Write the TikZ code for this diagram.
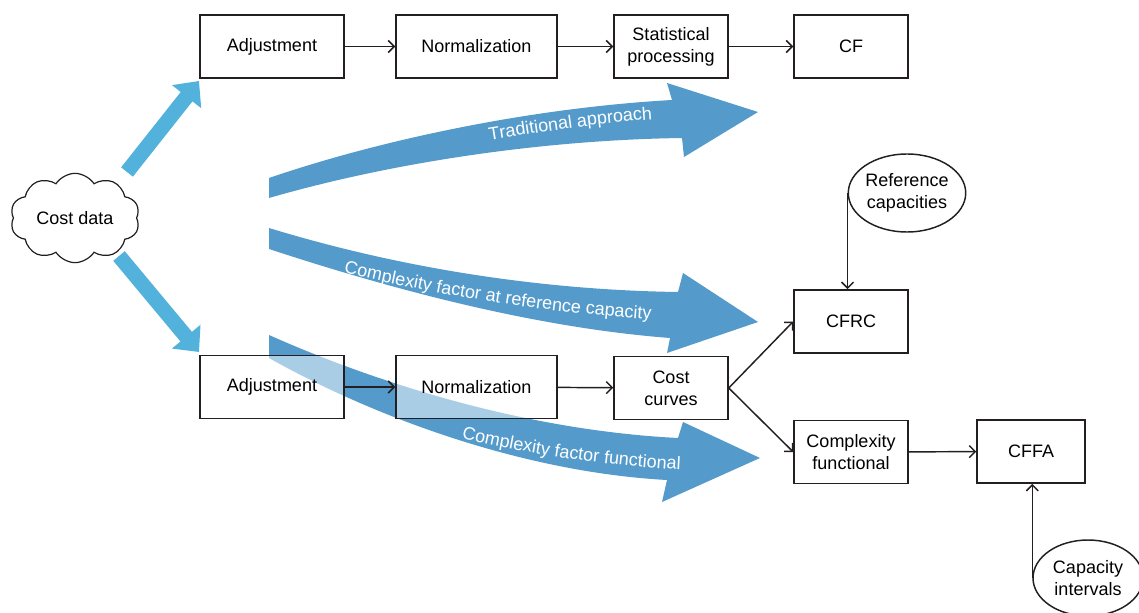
\documentclass[tikz,border=0pt]{standalone}
\usepackage{fontspec}
\setmainfont{Liberation Sans}
\usetikzlibrary{arrows.meta,shapes.geometric,shapes.symbols,decorations.text}
\definecolor{flowblue}{RGB}{84,155,204}
\definecolor{feedblue}{RGB}{82,178,220}
\definecolor{inkline}{RGB}{35,31,32}
\newcommand\arwfont{\fontsize{13.5}{16}\selectfont}

\begin{document}
\begin{tikzpicture}[x=0.75pt,y=-0.75pt,
  every node/.style={font=\fontsize{13.5}{16.5}\selectfont, text=black},
  box/.style={draw=inkline, line width=1.1pt, fill=white, fill opacity=0.5, text opacity=1,
              inner sep=0pt, minimum height=47.5pt, align=center},
  wbox/.style={box, minimum width=108pt},
  nbox/.style={box, minimum width=120.75pt},
  sbox/.style={box, minimum width=85.5pt},
  flow/.style={draw=inkline, line width=1.1pt, -{Straight Barb[length=4.5pt,width=9pt]}},
  feed/.style={draw=feedblue, line width=11.25pt, -{Triangle[length=15pt,width=27pt]}},
  band/.style={fill=flowblue},
  bandtext/.style={decorate, decoration={text along path, text align=center, text color=white}},
  oval/.style={ellipse, draw=inkline, line width=1.1pt, fill=white, inner sep=0pt, align=center}
]
\useasboundingbox (0,0) rectangle (1139,613);

% broad curved bands for the three approaches
\fill[band] (269,178) .. controls (380,140) and (530,108) .. (672,100) -- (667,83) -- (758,112)
  -- (684,157) -- (682,138) .. controls (540,140) and (390,163) .. (269,198) -- cycle;
\fill[band] (269,228) .. controls (400,268) and (540,290) .. (678,292) -- (683,273) -- (758,322)
  -- (667,353) -- (670,338) .. controls (540,328) and (400,292) .. (269,249) -- cycle;
\fill[band] (269,335) .. controls (370,380) and (520,430) .. (678,438) -- (683,422) -- (760,458)
  -- (662,502) -- (667,480) .. controls (520,472) and (370,415) .. (269,358) -- cycle;

\path[bandtext, decoration={text={|\arwfont|Traditional approach}}]
  (484,141) .. controls (540,132) and (600,123) .. (658,119);
\path[bandtext, decoration={text={|\arwfont|Complexity factor at reference capacity}}]
  (333,270) .. controls (420,292) and (540,313) .. (662,320);
\path[bandtext, decoration={text={|\arwfont|Complexity factor functional}}]
  (454,437) .. controls (520,452) and (600,466) .. (688,470);

% arrows leaving the cost data
\coordinate (upTail) at (127,172);
\coordinate (upTip) at (199,81);
\coordinate (dnTail) at (119,256);
\coordinate (dnTip) at (199,352);
\draw[feed] (upTail) -- (upTip);
\draw[feed] (dnTail) -- (dnTip);

\node[cloud, draw=inkline, line width=0.9pt, fill=white, cloud puffs=10, cloud puff arc=115,
      cloud ignores aspect, minimum width=97pt, minimum height=67pt] (costdata) at (75,218) {Cost data};

% top row
\node[wbox] (adj1) at (272,46.5) {Adjustment};
\node[nbox] (norm1) at (476.5,46.5) {Normalization};
\node[sbox] (stat) at (671,46.5) {Statistical\\processing};
\node[sbox] (cf) at (851,46.5) {CF};

% bottom row
\node[wbox] (adj2) at (272,387) {Adjustment};
\node[nbox] (norm2) at (476.5,387) {Normalization};
\node[sbox] (cost) at (671,388) {Cost\\curves};
\node[sbox] (cfrc) at (851,321.5) {CFRC};
\node[sbox] (cfun) at (851,452) {Complexity\\functional};
\node[wbox, minimum width=81pt] (cffa) at (1031,451.5) {CFFA};

\node[oval, minimum width=82.5pt, minimum height=58.5pt] (refcap) at (907,193) {Reference\\capacities};
\node[oval, minimum width=82.5pt, minimum height=57pt] (capint) at (1088,578) {Capacity\\intervals};

\draw[flow] (adj1) -- (norm1);
\draw[flow] (norm1) -- (stat);
\draw[flow] (stat) -- (cf);
\draw[flow] (adj2) -- (norm2);
\draw[flow] (norm2) -- (cost);
\draw[flow] (cost.east) -- (cfrc.west);
\draw[flow] (cost.east) -- (cfun.west);
\draw[flow] (cfun) -- (cffa);
\draw[flow] (refcap.west) -- (refcap.west |- cfrc.north);
\draw[flow] (capint.west) -- (capint.west |- cffa.south);
\end{tikzpicture}
\end{document}
